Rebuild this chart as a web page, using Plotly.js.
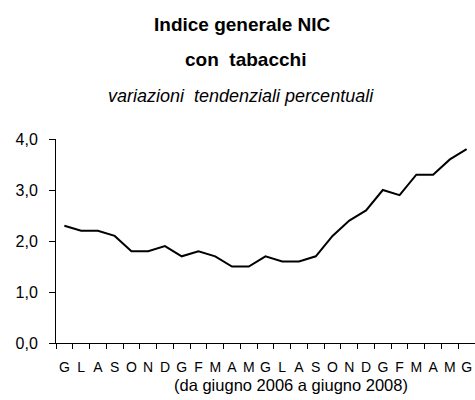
<!DOCTYPE html>
<html>
<head>
<meta charset="utf-8">
<script src="https://cdn.plot.ly/plotly-3.0.1.min.js"></script>
<style>html,body{margin:0;padding:0;background:#fff;}#chart{width:475px;height:400px;}</style>
</head>
<body>
<div id="chart"></div>
<script>
// Months from June 2006 to June 2008 (Italian initials)
const months = ["G","L","A","S","O","N","D","G","F","M","A","M","G","L","A","S","O","N","D","G","F","M","A","M","G"];
// Annual percentage changes, NIC index with tobacco
const values = [2.3,2.2,2.2,2.1,1.8,1.8,1.9,1.7,1.8,1.7,1.5,1.5,1.7,1.6,1.6,1.7,2.1,2.4,2.6,3.0,2.9,3.3,3.3,3.6,3.8];
const yTicks = [0,1,2,3,4];
const titleLines = ["Indice generale NIC","con  tabacchi","variazioni  tendenziali percentuali"];
const xTitle = "(da giugno 2006 a giugno 2008)";

// unique category keys (month letters repeat), labels come from `months`
const keys = months.map((m, i) => "m" + i);
const FONT = "Liberation Sans, Arial, sans-serif";

const trace = {
  x: keys, y: values, type: "scatter", mode: "lines",
  line: {color: "#000", width: 2}, hoverinfo: "none", showlegend: false
};

const layout = {
  width: 475, height: 400,
  margin: {l: 56, r: 0, t: 139, b: 57},
  paper_bgcolor: "#fff", plot_bgcolor: "#fff",
  separators: ",.",
  font: {family: FONT, color: "#000"},
  xaxis: {
    type: "category", categoryorder: "array", categoryarray: keys,
    range: [-0.5, keys.length - 0.5], fixedrange: true,
    tickmode: "array", tickvals: keys, ticktext: months,
    tickson: "boundaries", tickangle: 0,
    ticks: "outside", ticklen: 5, tickcolor: "#000", tickwidth: 1,
    showgrid: false, zeroline: false,
    showline: true, linecolor: "#000", linewidth: 1,
    tickfont: {family: FONT, size: 14, color: "#000"},
    ticklabelstandoff: 11
  },
  yaxis: {
    range: [0, 4], fixedrange: true,
    tickmode: "array", tickvals: yTicks, tickformat: ".1f",
    ticks: "outside", ticklen: 6, tickcolor: "#000", tickwidth: 1,
    showgrid: false, zeroline: false,
    showline: true, linecolor: "#000", linewidth: 1,
    tickfont: {family: FONT, size: 16, color: "#000"},
    ticklabelstandoff: 8
  },
  annotations: [
    {text: "<b>" + titleLines[0] + "</b>", xref: "paper", yref: "paper", x: 0.446, y: 1.562,
     xanchor: "center", yanchor: "middle", showarrow: false, font: {family: FONT, size: 19, color: "#000"}},
    {text: "<b>" + titleLines[1] + "</b>", xref: "paper", yref: "paper", x: 0.452, y: 1.392,
     xanchor: "center", yanchor: "middle", showarrow: false, font: {family: FONT, size: 19, color: "#000"}},
    {text: "<i>" + titleLines[2] + "</i>", xref: "paper", yref: "paper", x: 0.441, y: 1.212,
     xanchor: "center", yanchor: "middle", showarrow: false, font: {family: FONT, size: 18, color: "#000"}},
    {text: xTitle, xref: "paper", yref: "paper", x: 0.561, y: -0.206,
     xanchor: "center", yanchor: "middle", showarrow: false, font: {family: FONT, size: 16.5, color: "#000"}}
  ]
};

Plotly.newPlot("chart", [trace], layout, {displayModeBar: false, staticPlot: true});
</script>
</body>
</html>
